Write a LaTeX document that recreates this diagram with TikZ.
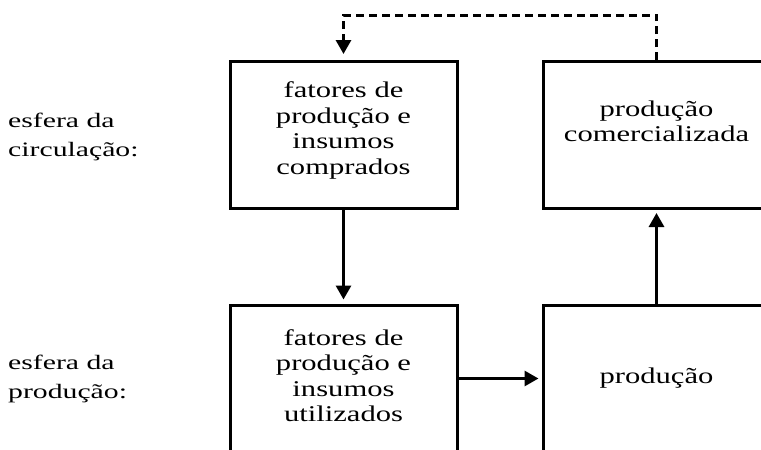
\documentclass[tikz,border=0pt]{standalone}
\usepackage{fontspec}
\setmainfont{Liberation Serif}
\usetikzlibrary{arrows.meta}

% text of the scan is wider than it is tall; optional arg lifts it inside its box
\newcommand{\widetext}[4][0pt]{\raisebox{#1}[\height][\depth]{%
  \scalebox{#2}[1]{\begin{tabular}{@{}#3@{}}#4\end{tabular}}}}

\tikzset{
  stagebox/.style={draw, line width=3pt, minimum width=227pt, minimum height=147pt,
    align=center, inner sep=0pt, font=\fontsize{22.5}{25.5}\selectfont},
  sphere/.style={anchor=west, align=left, inner sep=0pt,
    font=\fontsize{20.5}{29}\selectfont},
  flow/.style={line width=3pt, -{Triangle[length=14pt,width=15pt]}},
  feedback/.style={flow, dash pattern=on 8pt off 5pt}
}

\begin{document}
\begin{tikzpicture}[x=1pt, y=-1pt]
  % cropped page
  \useasboundingbox (0,0) rectangle (761,450);
  \clip (0,0) rectangle (761,450);

  % esfera da circulacao
  \node[stagebox] (bought) at (343.5,135) {\widetext[4pt]{1.36}{c}{fatores de\\produção e\\insumos\\comprados}};
  \node[stagebox] (sold) at (656.5,135) {\widetext[11pt]{1.36}{c}{produção\\comercializada}};
  \node[sphere] (circ) at (8,136) {\widetext{1.45}{l}{esfera da\\circulação:}};

  % esfera da producao
  \node[stagebox] (used) at (343.5,378.5) {\widetext{1.36}{c}{fatores de\\produção e\\insumos\\utilizados}};
  \node[stagebox] (made) at (656.5,378.5) {\widetext{1.36}{c}{produção}};
  \node[sphere] (prod) at (8,378) {\widetext{1.45}{l}{esfera da\\produção:}};

  % fluxos
  \draw[flow, shorten >=4pt] (bought) -- (used);
  \draw[flow, shorten >=3pt] (used) -- (made);
  \draw[flow, shorten >=3pt] (made) -- (sold);
  \draw[feedback, shorten >=6pt] (sold.north) -- ++(0,-45) -| (bought.north);
\end{tikzpicture}
\end{document}
